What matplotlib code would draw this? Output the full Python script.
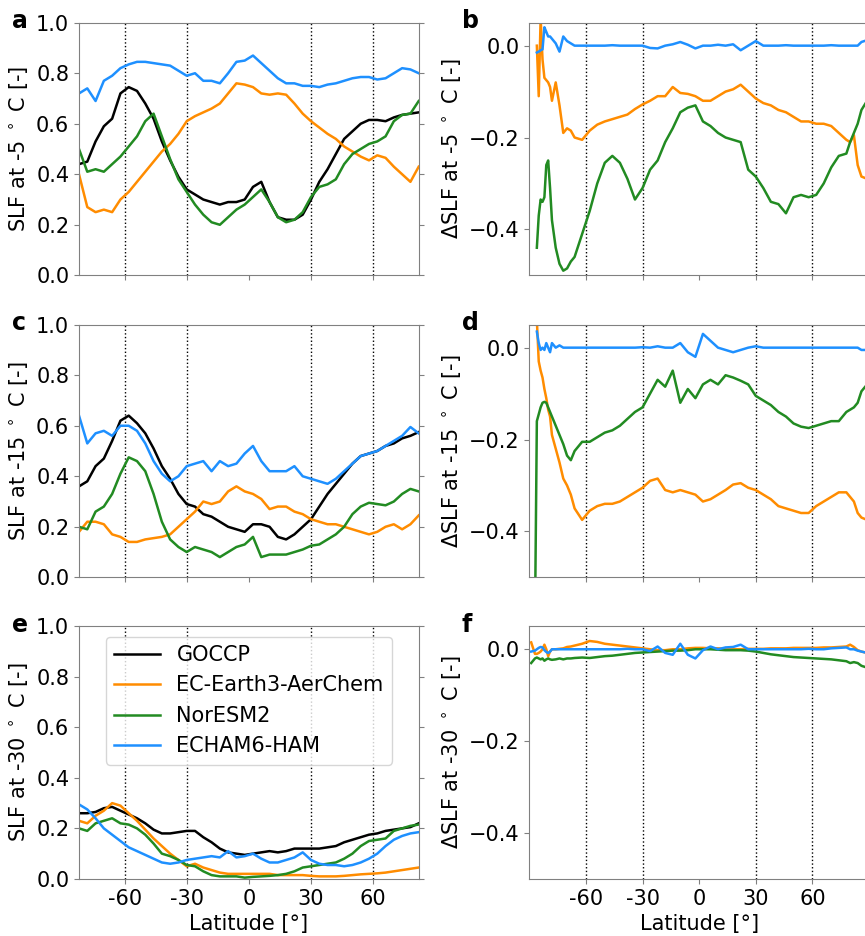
import numpy as np
import matplotlib
matplotlib.use("Agg")
import matplotlib.pyplot as plt

nan = np.nan

# latitude grids
lat_l = list(range(-82, 83, 4))
lat_r = ([-89, -87] + list(range(-86, -77)) + [-76, -74, -72, -70, -68]
         + list(range(-66, 79, 4)) + [80, 82, 84, 86, 89])

models = ["GOCCP", "EC-Earth3-AerChem", "NorESM2", "ECHAM6-HAM"]
colors = ["black", "darkorange", "forestgreen", "dodgerblue"]

# ---- SLF at -5 C (panel a)
goccp_5 = [0.44, 0.45, 0.53, 0.59, 0.62, 0.72, 0.745, 0.73, 0.68, 0.62, 0.53, 0.455,
           0.39, 0.34, 0.32, 0.30, 0.29, 0.28, 0.29, 0.29, 0.30, 0.35, 0.37, 0.29,
           0.23, 0.22, 0.22, 0.24, 0.30, 0.37, 0.42, 0.48, 0.54, 0.57, 0.60, 0.615,
           0.615, 0.61, 0.625, 0.635, 0.64, 0.645]
ecearth_5 = [0.40, 0.27, 0.25, 0.26, 0.25, 0.30, 0.33, 0.37, 0.41, 0.45, 0.49, 0.52,
             0.56, 0.61, 0.63, 0.645, 0.66, 0.68, 0.72, 0.76, 0.755, 0.745, 0.72, 0.715,
             0.72, 0.715, 0.68, 0.64, 0.61, 0.585, 0.56, 0.54, 0.51, 0.49, 0.47, 0.455,
             0.475, 0.465, 0.43, 0.40, 0.37, 0.43]
noresm_5 = [0.50, 0.41, 0.42, 0.41, 0.44, 0.47, 0.51, 0.55, 0.61, 0.64, 0.55, 0.46,
            0.38, 0.33, 0.28, 0.24, 0.21, 0.20, 0.23, 0.26, 0.28, 0.31, 0.34, 0.29,
            0.23, 0.21, 0.22, 0.25, 0.31, 0.35, 0.36, 0.38, 0.44, 0.48, 0.50, 0.52,
            0.53, 0.55, 0.61, 0.635, 0.64, 0.69]
echam_5 = [0.72, 0.74, 0.69, 0.77, 0.79, 0.82, 0.835, 0.845, 0.845, 0.84, 0.835, 0.83,
           0.81, 0.79, 0.80, 0.77, 0.77, 0.76, 0.80, 0.845, 0.85, 0.87, 0.84, 0.81,
           0.78, 0.76, 0.76, 0.75, 0.75, 0.745, 0.755, 0.76, 0.77, 0.78, 0.785, 0.785,
           0.775, 0.78, 0.80, 0.82, 0.815, 0.80]

# ---- SLF at -15 C (panel c)
goccp_15 = [0.36, 0.38, 0.44, 0.47, 0.54, 0.62, 0.64, 0.61, 0.57, 0.51, 0.44, 0.39,
            0.33, 0.29, 0.28, 0.25, 0.24, 0.22, 0.20, 0.19, 0.18, 0.21, 0.21, 0.20,
            0.16, 0.15, 0.17, 0.20, 0.23, 0.28, 0.33, 0.37, 0.41, 0.45, 0.48, 0.49,
            0.50, 0.52, 0.53, 0.55, 0.56, 0.575]
ecearth_15 = [0.18, 0.22, 0.22, 0.21, 0.17, 0.16, 0.14, 0.14, 0.15, 0.155, 0.16, 0.17,
              0.20, 0.23, 0.26, 0.30, 0.29, 0.30, 0.34, 0.36, 0.34, 0.33, 0.31, 0.27,
              0.28, 0.28, 0.26, 0.25, 0.23, 0.22, 0.21, 0.21, 0.20, 0.19, 0.18, 0.17,
              0.18, 0.20, 0.21, 0.19, 0.21, 0.245]
noresm_15 = [0.20, 0.19, 0.26, 0.28, 0.33, 0.41, 0.475, 0.46, 0.42, 0.33, 0.22, 0.15,
             0.12, 0.10, 0.12, 0.11, 0.10, 0.08, 0.10, 0.12, 0.13, 0.16, 0.08, 0.09,
             0.09, 0.09, 0.10, 0.11, 0.125, 0.13, 0.15, 0.17, 0.20, 0.25, 0.28, 0.295,
             0.29, 0.285, 0.30, 0.33, 0.35, 0.34]
echam_15 = [0.64, 0.53, 0.57, 0.58, 0.56, 0.60, 0.60, 0.58, 0.53, 0.46, 0.41, 0.38,
            0.40, 0.44, 0.45, 0.46, 0.42, 0.46, 0.44, 0.45, 0.49, 0.52, 0.46, 0.42,
            0.42, 0.42, 0.44, 0.40, 0.39, 0.38, 0.37, 0.39, 0.42, 0.45, 0.48, 0.49,
            0.50, 0.52, 0.54, 0.56, 0.595, 0.57]

# ---- SLF at -30 C (panel e)
goccp_30 = [0.26, 0.26, 0.265, 0.28, 0.285, 0.27, 0.255, 0.24, 0.22, 0.195, 0.18, 0.18,
            0.185, 0.19, 0.19, 0.165, 0.145, 0.12, 0.105, 0.10, 0.095, 0.10, 0.105, 0.11,
            0.105, 0.11, 0.12, 0.12, 0.12, 0.12, 0.125, 0.13, 0.145, 0.155, 0.165, 0.175,
            0.18, 0.19, 0.195, 0.20, 0.205, 0.22]
ecearth_30 = [0.23, 0.22, 0.25, 0.27, 0.30, 0.29, 0.26, 0.23, 0.195, 0.16, 0.13, 0.10,
              0.075, 0.05, 0.06, 0.045, 0.035, 0.025, 0.02, 0.02, 0.02, 0.02, 0.02, 0.02,
              0.015, 0.015, 0.015, 0.015, 0.012, 0.01, 0.01, 0.01, 0.012, 0.015, 0.018, 0.02,
              0.022, 0.025, 0.03, 0.035, 0.04, 0.045]
noresm_30 = [0.20, 0.19, 0.22, 0.23, 0.24, 0.22, 0.215, 0.20, 0.175, 0.14, 0.10, 0.09,
             0.075, 0.055, 0.05, 0.03, 0.015, 0.01, 0.01, 0.01, 0.005, 0.008, 0.01, 0.012,
             0.015, 0.02, 0.03, 0.045, 0.05, 0.055, 0.06, 0.065, 0.08, 0.10, 0.13, 0.15,
             0.155, 0.16, 0.19, 0.20, 0.21, 0.215]
echam_30 = [0.295, 0.275, 0.24, 0.20, 0.175, 0.15, 0.125, 0.11, 0.095, 0.08, 0.065, 0.06,
            0.065, 0.075, 0.08, 0.085, 0.09, 0.085, 0.11, 0.085, 0.09, 0.10, 0.08, 0.065,
            0.065, 0.075, 0.085, 0.105, 0.075, 0.06, 0.055, 0.055, 0.05, 0.055, 0.065, 0.08,
            0.10, 0.13, 0.155, 0.17, 0.18, 0.185]

# ---- delta SLF at -5 C (panel b)
d_ecearth_5 = [nan, nan, 0.0, -0.11, 0.06, -0.03, -0.07, -0.075, -0.08, -0.09, -0.12,
               -0.08, -0.13, -0.19, -0.18, -0.185,
               -0.20, -0.205, -0.185, -0.172, -0.165, -0.16, -0.155, -0.15, -0.138, -0.128,
               -0.12, -0.11, -0.11, -0.09, -0.103, -0.105, -0.11, -0.12, -0.12, -0.11,
               -0.10, -0.095, -0.085, -0.10, -0.115, -0.125, -0.13, -0.14, -0.145, -0.155,
               -0.165, -0.165, -0.17, -0.17, -0.175, -0.19, -0.205,
               -0.21, -0.195, -0.26, -0.285, -0.29]
d_noresm_5 = [nan, nan, -0.44, -0.37, -0.335, -0.34, -0.33, -0.26, -0.25, -0.31, -0.38,
              -0.44, -0.475, -0.49, -0.485, -0.47,
              -0.46, -0.41, -0.36, -0.30, -0.255, -0.24, -0.255, -0.29, -0.335, -0.31,
              -0.27, -0.25, -0.21, -0.18, -0.145, -0.135, -0.13, -0.165, -0.175, -0.19,
              -0.20, -0.205, -0.21, -0.27, -0.285, -0.31, -0.34, -0.345, -0.365, -0.33,
              -0.325, -0.33, -0.325, -0.30, -0.265, -0.24, -0.235,
              -0.21, -0.19, -0.17, -0.14, -0.12]
d_echam_5 = [nan, nan, -0.015, -0.013, -0.01, -0.008, 0.04, 0.03, 0.02, 0.02, 0.015,
             0.005, -0.013, 0.02, 0.01, 0.005,
             0.0, 0.0, 0.0, 0.0, 0.0, 0.001, 0.0, 0.0, 0.0, 0.0,
             -0.005, -0.006, 0.0, 0.003, 0.008, 0.002, -0.006, 0.0, 0.0, 0.002,
             0.0, 0.003, -0.01, 0.0, 0.01, 0.0, 0.0, 0.0, 0.001, 0.0,
             0.0, 0.0, 0.0, 0.0, 0.001, 0.0, 0.0,
             0.0, 0.0, 0.0, 0.008, 0.012]

# ---- delta SLF at -15 C (panel d)
d_ecearth_15 = [nan, nan, 0.06, -0.03, -0.05, -0.065, -0.09, -0.11, -0.135, -0.15, -0.19,
                -0.22, -0.25, -0.285, -0.30, -0.32,
                -0.35, -0.375, -0.355, -0.345, -0.34, -0.34, -0.335, -0.325, -0.315, -0.305,
                -0.29, -0.285, -0.31, -0.315, -0.31, -0.315, -0.32, -0.335, -0.33, -0.32,
                -0.31, -0.298, -0.295, -0.305, -0.31, -0.32, -0.33, -0.345, -0.35, -0.355,
                -0.36, -0.36, -0.345, -0.335, -0.325, -0.315, -0.315,
                -0.325, -0.335, -0.36, -0.37, -0.375]
d_noresm_15 = [nan, -0.60, -0.16, -0.145, -0.13, -0.12, -0.118, -0.12, -0.13, -0.14, -0.15,
               -0.17, -0.19, -0.21, -0.235, -0.245,
               -0.225, -0.205, -0.205, -0.195, -0.185, -0.18, -0.17, -0.155, -0.14, -0.13,
               -0.10, -0.07, -0.085, -0.05, -0.12, -0.09, -0.11, -0.08, -0.07, -0.08,
               -0.06, -0.065, -0.072, -0.08, -0.105, -0.115, -0.125, -0.14, -0.15, -0.165,
               -0.172, -0.175, -0.17, -0.165, -0.16, -0.16, -0.14,
               -0.135, -0.13, -0.12, -0.095, -0.08]
d_echam_15 = [nan, nan, 0.035, 0.01, -0.005, 0.0, -0.005, 0.01, 0.0, -0.01, 0.01,
              0.0, 0.005, 0.0, 0.0, 0.0,
              0.0, 0.0, 0.0, 0.0, 0.0, 0.0, 0.0, 0.0, 0.0, 0.001,
              0.0, 0.003, 0.0, 0.0, 0.01, -0.01, -0.02, 0.03, 0.015, 0.0,
              -0.005, -0.01, -0.005, 0.0, 0.003, 0.0, 0.0, 0.0, 0.0, 0.0,
              0.0, 0.0, 0.0, 0.0, 0.0, 0.0, 0.0,
              0.0, 0.0, 0.0, -0.005, -0.005]

# ---- delta SLF at -30 C (panel f)
d_ecearth_30 = [0.015, -0.01, -0.01, -0.008, -0.005, 0.0, 0.01, 0.0, -0.015, -0.005, 0.0,
                0.0, 0.001, 0.002, 0.005, 0.006,
                0.008, 0.012, 0.018, 0.016, 0.012, 0.01, 0.008, 0.006, 0.004, 0.002,
                0.0, -0.002, -0.002, 0.0, 0.0, 0.002, 0.003, 0.003, 0.002, 0.002,
                0.001, 0.0, 0.0, 0.001, 0.001, 0.001, 0.002, 0.002, 0.002, 0.003,
                0.003, 0.003, 0.003, 0.004, 0.004, 0.005, 0.006,
                0.01, 0.005, -0.002, -0.005, -0.008]
d_noresm_30 = [-0.03, -0.02, -0.018, -0.02, -0.022, -0.02, -0.025, -0.022, -0.02, -0.022, -0.023,
               -0.022, -0.02, -0.022, -0.02, -0.02,
               -0.019, -0.018, -0.019, -0.017, -0.015, -0.014, -0.012, -0.01, -0.008, -0.007,
               -0.006, -0.005, -0.004, -0.003, -0.003, -0.002, 0.0, 0.0, 0.0, -0.001,
               -0.002, -0.002, -0.002, -0.003, -0.005, -0.008, -0.011, -0.013, -0.015, -0.017,
               -0.018, -0.019, -0.02, -0.021, -0.022, -0.024, -0.026,
               -0.03, -0.028, -0.03, -0.036, -0.04]
d_echam_30 = [-0.005, -0.003, 0.0, 0.003, 0.005, 0.004, -0.002, -0.006, -0.008, -0.005, 0.0,
              0.0, 0.0, 0.0, 0.0, 0.0,
              0.0, 0.0, 0.0, 0.0, 0.0, 0.0, 0.0, 0.001, 0.0, 0.0,
              -0.004, 0.006, -0.008, -0.012, 0.012, -0.012, -0.02, -0.002, 0.006, 0.0,
              0.004, 0.005, 0.01, 0.0, 0.0, 0.0, 0.0, 0.0, 0.0, 0.0,
              0.0, 0.001, 0.0, 0.0, 0.002, 0.003, 0.004,
              0.0, 0.0, -0.003, -0.005, -0.008]

slf = [
    [goccp_5, ecearth_5, noresm_5, echam_5],
    [goccp_15, ecearth_15, noresm_15, echam_15],
    [goccp_30, ecearth_30, noresm_30, echam_30],
]
dslf = [
    [d_ecearth_5, d_noresm_5, d_echam_5],
    [d_ecearth_15, d_noresm_15, d_echam_15],
    [d_ecearth_30, d_noresm_30, d_echam_30],
]
temps = ["-5", "-15", "-30"]
letters = [("a", "b"), ("c", "d"), ("e", "f")]

FS = 15
plt.rcParams["font.size"] = FS

W, H = 865, 936
fig = plt.figure(figsize=(W / 100, H / 100), dpi=100)

row_top = [22.7, 324.7, 626.3]
ax_h = 252.6
ax_w = 339.7
x_left = 79.0
x_right = 529.3
LW = 1.8


def style(ax):
    for s in ax.spines.values():
        s.set_color("0.5")
    ax.tick_params(direction="out", colors="0.5", labelcolor="black",
                   labelsize=FS, right=True, length=3.5)
    for v in [-60, -30, 30, 60]:
        ax.axvline(v, color="black", ls=":", lw=1, zorder=1)


for i in range(3):
    bottom = (H - row_top[i] - ax_h) / H
    axl = fig.add_axes([x_left / W, bottom, ax_w / W, ax_h / H])
    axr = fig.add_axes([x_right / W, bottom, ax_w / W, ax_h / H])

    style(axl)
    for name, c, vals in zip(models, colors, slf[i]):
        axl.plot(lat_l, vals, color=c, lw=LW, label=name, zorder=2)
    axl.set_xlim(-82, 82)
    axl.set_ylim(0, 1)
    axl.set_yticks([0, 0.2, 0.4, 0.6, 0.8, 1.0])
    axl.set_xticks([-60, -30, 0, 30, 60])
    axl.set_ylabel("SLF at " + temps[i] + r" $^\circ$ C [-]")

    style(axr)
    for c, vals in zip(colors[1:], dslf[i]):
        axr.plot(lat_r, vals, color=c, lw=LW, zorder=2)
    axr.set_xlim(-90, 90)
    axr.set_ylim(-0.5, 0.05)
    axr.set_yticks([-0.4, -0.2, 0.0])
    axr.set_xticks([-60, -30, 0, 30, 60])
    axr.set_ylabel("\u0394SLF at " + temps[i] + r" $^\circ$ C [-]")

    if i < 2:
        axl.set_xticklabels([])
        axr.set_xticklabels([])
    else:
        labs = ["-60", "-30", "0", "30", "60"]
        axl.set_xticklabels(labs)
        axr.set_xticklabels(labs)
        axl.set_xlabel("Latitude [\u00b0]")
        axr.set_xlabel("Latitude [\u00b0]")
        axl.legend(loc="upper center", fontsize=FS, handlelength=2.2)

    base = row_top[i] + 5.5
    fig.text(12 / W, 1 - base / H, letters[i][0], fontsize=17, fontweight="bold",
             va="baseline")
    fig.text(462 / W, 1 - base / H, letters[i][1], fontsize=17, fontweight="bold",
             va="baseline")

fig.savefig("out.png", dpi=100)
